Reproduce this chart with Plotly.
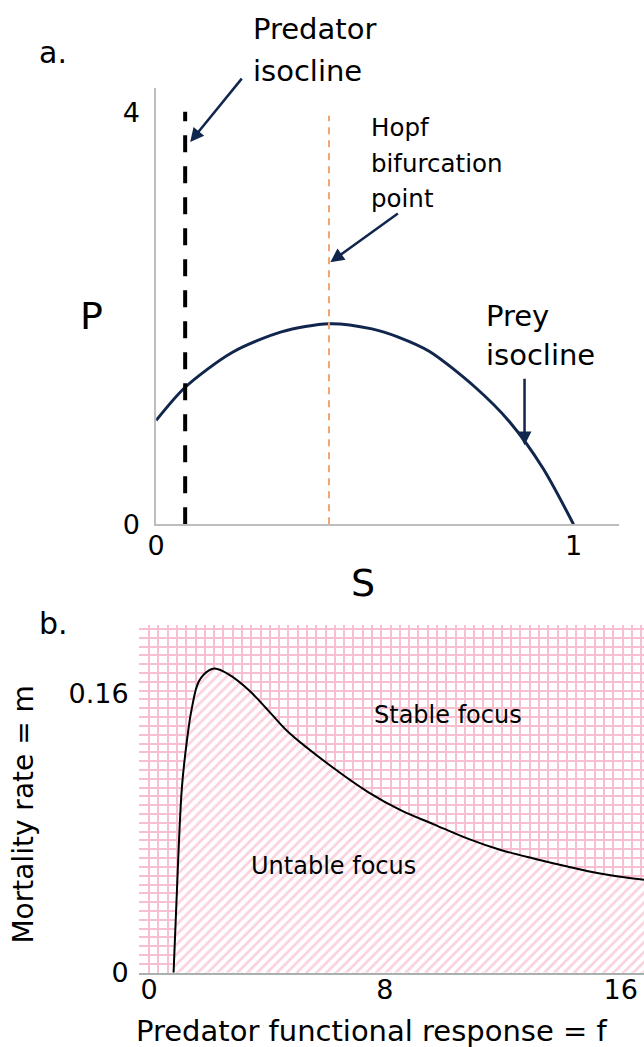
import plotly.graph_objects as go

W, H = 644, 1047
FONT = "DejaVu Sans"

# ---- Panel a data ----
S_prey = [0, 0.069, 0.182, 0.30, 0.414, 0.517, 0.58, 0.655, 0.765, 0.846, 0.926, 1.0]
P_prey = [1.01, 1.33, 1.67, 1.87, 1.95, 1.90, 1.82, 1.68, 1.33, 1.00, 0.55, 0.0]
S_predator = 0.0695
P_predator_top = 4.01
S_hopf = 0.414
P_hopf_top = 3.97
a_xticks = [0, 1]
a_yticks = [0, 4]

# ---- Panel b data ----
f_vals = [0.83, 0.93, 1.11, 1.28, 1.45, 1.69, 2.03, 2.23, 2.70, 3.38, 4.16, 4.75,
          6.20, 7.43, 8.55, 9.66, 10.81, 11.93, 13.04, 14.19, 15.30, 16.42, 16.79]
m_vals = [0.0, 0.0413, 0.1055, 0.1326, 0.1516, 0.1670, 0.1732, 0.1743, 0.1710, 0.1620,
          0.1480, 0.1375, 0.1180, 0.1035, 0.0930, 0.0850, 0.0768, 0.0703, 0.0654,
          0.0608, 0.0568, 0.0539, 0.0533]
b_xticks = [0, 8, 16]
b_yticks = [0, 0.16]
b_ticklabels = ["0", "0.16"]

# screen -> layout correction (measured from earlier renders)
SX, OX, SY = 0.985, 7.0, 0.985


def px(x):
    return min(1.0, ((x - OX) / SX) / W)


def py(y):
    return 1 - (y / SY) / H


NAVY = "#10264d"
PINK_GRID = "#f8bfd0"
PINK_HATCH = "#f4a6bc"

fig = go.Figure()

# Panel a traces
fig.add_trace(go.Scatter(x=S_prey, y=P_prey, mode="lines", line=dict(color=NAVY, width=3, shape="spline", smoothing=0.8),
                         xaxis="x", yaxis="y", showlegend=False, hoverinfo="skip"))
fig.add_trace(go.Scatter(x=[S_predator, S_predator], y=[0, P_predator_top], mode="lines",
                         line=dict(color="black", width=4, dash="17px,14px"),
                         xaxis="x", yaxis="y", showlegend=False, hoverinfo="skip"))
fig.add_trace(go.Scatter(x=[S_hopf, S_hopf], y=[0, P_hopf_top], mode="lines",
                         line=dict(color="#f2a470", width=2, dash="7px,6px"),
                         xaxis="x", yaxis="y", showlegend=False, hoverinfo="skip"))

# Panel b: hatched unstable region with curve
fig.add_trace(go.Scatter(x=f_vals, y=m_vals, mode="lines", fill="tozeroy",
                         fillcolor="white",
                         fillpattern=dict(shape="/", fgcolor=PINK_HATCH, bgcolor="white", size=7, solidity=0.38),
                         line=dict(color="black", width=2, shape="spline", smoothing=1.0),
                         xaxis="x2", yaxis="y2", showlegend=False, hoverinfo="skip"))

tickfont = dict(family=FONT, size=27, color="black")
greyline = "#bdbdbd"

fig.update_layout(
    width=W, height=H,
    margin=dict(l=0, r=0, t=0, b=0),
    paper_bgcolor="white", plot_bgcolor="white",
    font=dict(family=FONT, color="black"),
    xaxis=dict(domain=[px(154), px(616)], range=[0, 1.108], anchor="y",
               showgrid=False, zeroline=False, showline=True, linecolor=greyline, linewidth=1.5,
               tickmode="array", tickvals=a_xticks, ticktext=[str(v) for v in a_xticks],
               ticks="", ticklabelstandoff=-4, tickfont=tickfont),
    yaxis=dict(domain=[py(524), py(88)], range=[0, 4.24], anchor="x",
               showgrid=False, zeroline=False, showline=True, linecolor=greyline, linewidth=1.5,
               tickmode="array", tickvals=a_yticks, ticktext=[str(v) for v in a_yticks],
               ticks="outside", ticklen=9, tickcolor="rgba(0,0,0,0)", tickfont=tickfont),
    xaxis2=dict(domain=[px(137), 1.0], range=[-0.338, 16.79], anchor="y2",
                showgrid=False, zeroline=False, showline=True, linecolor="#a9b0b0", linewidth=2,
                tickmode="array", tickvals=b_xticks, ticktext=[str(v) for v in b_xticks],
                ticks="", ticklabelstandoff=-8, tickfont=tickfont,
                minor=dict(tickmode="linear", tick0=0, dtick=0.315, showgrid=True,
                           gridcolor=PINK_GRID, gridwidth=1.5, ticks="")),
    yaxis2=dict(domain=[py(972), py(625)], range=[0, 0.199], anchor="x2",
                showgrid=False, zeroline=False, showline=False,
                tickmode="array", tickvals=b_yticks, ticktext=b_ticklabels,
                ticks="outside", ticklen=4, tickcolor="rgba(0,0,0,0)", tickfont=tickfont,
                minor=dict(tickmode="linear", tick0=0, dtick=0.00505, showgrid=True,
                           gridcolor=PINK_GRID, gridwidth=1.5, ticks="")),
)

ann = []


def text(t, x, y, size, xanchor="left", angle=0):
    ann.append(dict(text=t, x=px(x), y=py(y), xref="paper", yref="paper", showarrow=False,
                    xanchor=xanchor, yanchor="middle", textangle=angle,
                    font=dict(family=FONT, size=size, color="black")))


def arrow(xh, yh, xt, yt):
    ann.append(dict(text="", x=px(xh), y=py(yh), xref="paper", yref="paper", showarrow=True,
                    ax=(xt - xh) / SX, ay=(yt - yh) / SY, arrowhead=2, arrowsize=1.1, arrowwidth=2.5,
                    arrowcolor=NAVY, standoff=0, startstandoff=0))


text("a.", 51, 52, 30, xanchor="center")
text("b.", 51, 623, 30, xanchor="center")
text("Predator", 249, 29, 29)
text("isocline", 249, 71, 29)
text("Hopf", 367, 127, 24.5)
text("bifurcation", 367, 163, 24.5)
text("point", 367, 198, 24.5)
text("Prey", 482, 316, 29)
text("isocline", 482, 355, 29)
text("P", 89, 316, 38, xanchor="center")
text("S", 361, 583, 38, xanchor="center")
text("Stable focus", 370, 715, 24)
text("Untable focus", 247, 865, 24)
text("Predator functional response = f", 370, 1030, 29, xanchor="center")
text("Mortality rate = m", 22, 814, 28, xanchor="center", angle=-90)

arrow(188, 142, 240, 78)
arrow(328, 262, 396, 213)
arrow(522, 445, 522, 378)

fig.update_layout(annotations=ann)

fig.write_html("out.html", config={"displayModeBar": False},
               post_script="document.body.style.margin='0';document.body.style.overflow='hidden';")
